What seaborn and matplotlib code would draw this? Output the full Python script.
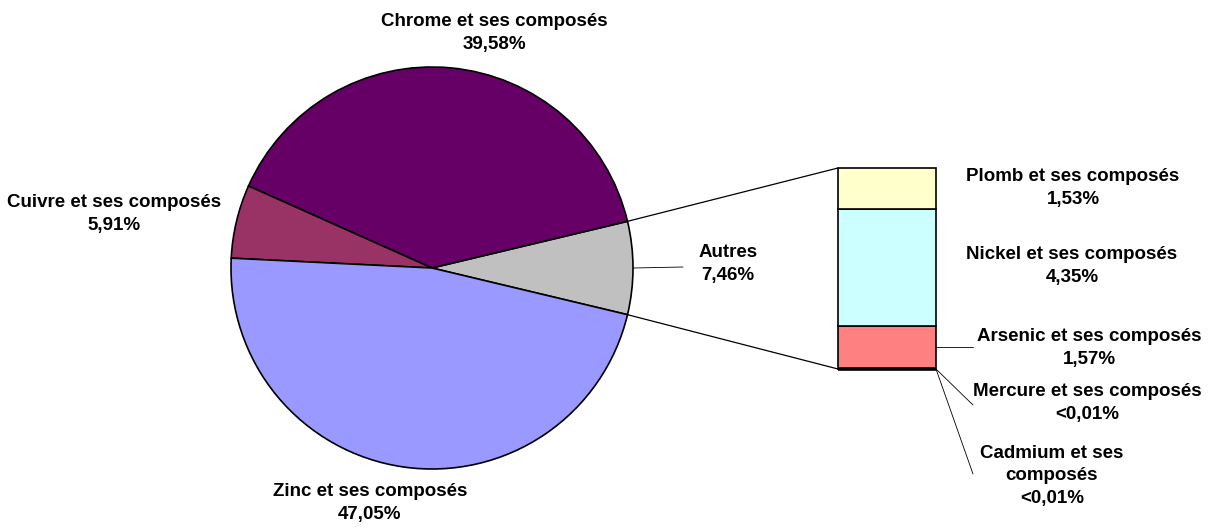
import matplotlib
matplotlib.use("Agg")
import matplotlib.pyplot as plt
import numpy as np
import seaborn as sns

sns.set_theme(style="white")
plt.rcParams['font.family'] = ['Liberation Sans', 'DejaVu Sans']

# pie data (order: counter-clockwise starting from the right)
pie_labels = ["Autres", "Chrome et ses composés", "Cuivre et ses composés", "Zinc et ses composés"]
pie_values = [7.46, 39.58, 5.91, 47.05]
pie_texts = ["7,46%", "39,58%", "5,91%", "47,05%"]
pie_colors = ["#C0C0C0", "#660066", "#993366", "#9999FF"]

# bar data (bottom to top)
bar_labels = ["Cadmium et ses\ncomposés", "Mercure et ses composés", "Arsenic et ses composés",
              "Nickel et ses composés", "Plomb et ses composés"]
bar_values = [0.005, 0.005, 1.57, 4.35, 1.53]
bar_texts = ["<0,01%", "<0,01%", "1,57%", "4,35%", "1,53%"]
bar_colors = ["#000000", "#000000", "#FF8080", "#CCFFFF", "#FFFFCC"]

W, H = 1212, 527
fig = plt.figure(figsize=(W / 100, H / 100), dpi=100)
ax = fig.add_axes([0, 0, 1, 1])

def py(y):
    return H - y

cx, cy, r = 432, py(268), 201
start = -pie_values[0] / 100 * 360 / 2
ax.pie(pie_values, colors=pie_colors, startangle=start, counterclock=True,
       center=(cx, cy), radius=r, frame=True,
       wedgeprops=dict(edgecolor="black", linewidth=1.2))

# stacked bar for "Autres"
bx, bw = 838, 98
b_bottom, b_top = py(369), py(168)
scale = (b_top - b_bottom) / sum(bar_values)
bottom = b_bottom
for v, c in zip(bar_values, bar_colors):
    ax.bar(bx, v * scale, width=bw, bottom=bottom, align="edge", color=c,
           edgecolor="black", linewidth=1.2, zorder=3)
    bottom += v * scale
# the two tiny slices show up as a thick line at the bottom
ax.plot([bx, bx + bw], [b_bottom + 0.5, b_bottom + 0.5], color="black", lw=2.6,
        solid_capstyle="butt", zorder=4)

# connector lines pie -> bar
a = np.deg2rad(start)
ax.plot([cx + r * np.cos(a), bx], [cy + r * np.sin(a), b_bottom], color="black", lw=0.9)
ax.plot([cx + r * np.cos(a), bx], [cy - r * np.sin(a), b_top], color="black", lw=0.9)

fs = 13.5
kw = dict(fontsize=fs, fontweight="bold", ha="center", va="center", color="black",
          linespacing=1.4)

# pie labels
ax.text(494, py(33), f"{pie_labels[1]}\n{pie_texts[1]}", **kw)
ax.text(114, py(214), f"{pie_labels[2]}\n{pie_texts[2]}", **kw)
ax.text(728, py(264), f"{pie_labels[0]}\n{pie_texts[0]}", **kw)
ax.text(370, py(503), f"{pie_labels[3]}\n{pie_texts[3]}", **kw)
ax.plot([cx + r, 683], [py(268), py(267)], color="black", lw=0.6)

# bar labels
ax.text(1073, py(188), f"{bar_labels[4]}\n{bar_texts[4]}", **kw)
ax.text(1072, py(266), f"{bar_labels[3]}\n{bar_texts[3]}", **kw)
ax.text(1089, py(348), f"{bar_labels[2]}\n{bar_texts[2]}", **kw)
ax.text(1087, py(403), f"{bar_labels[1]}\n{bar_texts[1]}", **kw)
ax.text(1052, py(476), f"{bar_labels[0]}\n{bar_texts[0]}", **kw)
ax.plot([bx + bw, 973], [py(347), py(347)], color="black", lw=0.6)
ax.plot([bx + bw, 973], [b_bottom, py(405)], color="black", lw=0.6)
ax.plot([bx + bw, 973], [b_bottom, py(474)], color="black", lw=0.6)

ax.set_xlim(0, W)
ax.set_ylim(0, H)
ax.set_aspect("equal")
ax.axis("off")

fig.savefig("out.png", dpi=100)
